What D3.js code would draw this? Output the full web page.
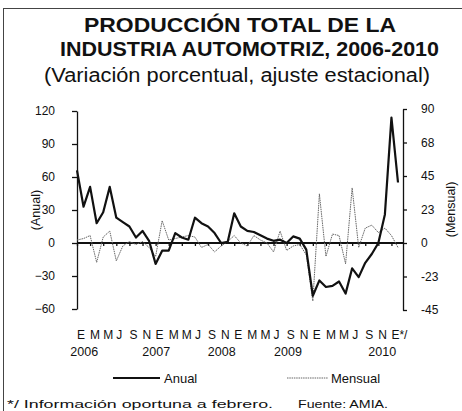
<!DOCTYPE html>
<html><head><meta charset="utf-8">
<script src="https://cdn.jsdelivr.net/npm/d3@7"></script>
<style>body{margin:0;background:#fff}svg{display:block}text{font-family:"Liberation Sans",Arial,sans-serif;fill:#111}</style>
</head><body><svg id="c" width="462" height="411"></svg>
<script>
const anual = [66,33,51,18,28,51,23,19,15,5,11,2,-19,-7,-7,9,5,3,23,18,15,9,0,1,27,15,11,10,7,4,2,3,0,6,4,-6,-48,-34,-40,-39,-35,-46,-23,-31,-18,-10,0,26,114,55];
const mensual = [2,3,5,-13,4,8,-12,-2,1,-1,1,-3,-9,15,2,3,4,5,4,-3,-1,-6,-2,1,5,0,-2,5,2,0,-6,8,-5,-2,-1,-8,-39,33,-9,6,5,-14,37,-3,10,12,7,10,5,-3];
const monthLetters = ["E","M","M","J","S","N","E","M","M","J","S","N","E","M","M","J","S","N","E","M","M","J","S","N","E*/"];
const years = ["2006","2007","2008","2009","2010"];
const leftTicks = [-60,-30,0,30,60,90,120];
const rightTicks = [-45,-22.5,0,22.5,45,67.5,90];
const rightTickLabels = ["-45","-23","0","23","45","68","90"];

const svg = d3.select("#c");
// frame
svg.append("rect").attr("x",3.5).attr("y",8.5).attr("width",520).attr("height",520)
  .attr("fill","none").attr("stroke","#444").attr("stroke-width",1);

// titles
svg.append("text").attr("x",84).attr("y",32).attr("font-size",21).attr("font-weight","bold")
  .attr("textLength",312).attr("lengthAdjust","spacingAndGlyphs").text("PRODUCCIÓN  TOTAL  DE  LA");
svg.append("text").attr("x",60).attr("y",56).attr("font-size",21).attr("font-weight","bold")
  .attr("textLength",379).attr("lengthAdjust","spacingAndGlyphs").text("INDUSTRIA AUTOMOTRIZ,  2006-2010");
svg.append("text").attr("x",44).attr("y",82).attr("font-size",20)
  .attr("textLength",386).attr("lengthAdjust","spacingAndGlyphs").text("(Variación porcentual, ajuste estacional)");

const x = d3.scaleLinear().domain([0,49]).range([77,398]);
const yL = d3.scaleLinear().domain([-60,120]).range([309,111]);
const yR = d3.scaleLinear().domain([-45,90]).range([310,109]);

// left axis
const gL = svg.append("g").attr("transform","translate(77,0)")
  .call(d3.axisLeft(yL).tickValues(leftTicks).tickSize(5).tickSizeOuter(0).tickPadding(17));
gL.selectAll("path,line").attr("stroke","#111").attr("stroke-width",1.3);
gL.selectAll("text").attr("font-size",12).attr("font-family","Liberation Sans, Arial, sans-serif").attr("fill","#111");

// right axis
const gR = svg.append("g").attr("transform","translate(403,0)")
  .call(d3.axisRight(yR).tickValues(rightTicks).tickSize(4).tickSizeOuter(0).tickPadding(14)
  .tickFormat((d,i)=>rightTickLabels[i]));
gR.selectAll("path,line").attr("stroke","#111").attr("stroke-width",1.3);
gR.selectAll("text").attr("font-size",12).attr("font-family","Liberation Sans, Arial, sans-serif").attr("fill","#111");

// axis titles
svg.append("text").attr("transform",`translate(40,${yL(30)}) rotate(-90)`).attr("text-anchor","middle")
  .attr("font-size",12.5).text("(Anual)");
svg.append("text").attr("transform",`translate(455,${yR(22.5)}) rotate(-90)`).attr("text-anchor","middle")
  .attr("font-size",12.5).text("(Mensual)");

// zero line with ticks
const idx = d3.range(0,49,2);
const gZ = svg.append("g").attr("transform",`translate(0,${yL(0)})`)
  .call(d3.axisBottom(x).tickValues(idx).tickSize(3).tickSizeOuter(0).tickFormat(""));
gZ.select("path").attr("stroke","#111").attr("stroke-width",2.2).attr("d",`M77,0H403`);
gZ.selectAll("line").attr("stroke","#111").attr("stroke-width",1.3);

// month letters
svg.append("g").selectAll("text").data(monthLetters).join("text")
  .attr("x",(d,i)=>x(i*2)).attr("y",339).attr("font-size",12).text(d=>d);
// years
const yearIdx = [1.1,12.1,22.1,32.2,46.6];
svg.append("g").selectAll("text").data(years).join("text")
  .attr("x",(d,i)=>x(yearIdx[i])).attr("y",356).attr("text-anchor","middle").attr("font-size",12.5).text(d=>d);

// lines
svg.append("path").datum(mensual).attr("fill","none").attr("stroke","#666").attr("stroke-width",1)
  .attr("stroke-dasharray","1.5,0.8")
  .attr("d",d3.line().x((d,i)=>x(i)).y(d=>yR(d)));
svg.append("path").datum(anual).attr("fill","none").attr("stroke","#111").attr("stroke-width",2.2)
  .attr("stroke-linejoin","round")
  .attr("d",d3.line().x((d,i)=>x(i)).y(d=>yL(d)));

// legend
svg.append("line").attr("x1",113).attr("x2",160).attr("y1",378).attr("y2",378).attr("stroke","#111").attr("stroke-width",2);
svg.append("text").attr("x",164).attr("y",383).attr("font-size",13).text("Anual");
svg.append("line").attr("x1",287).attr("x2",328).attr("y1",378).attr("y2",378).attr("stroke","#666").attr("stroke-width",1).attr("stroke-dasharray","1.5,0.8");
svg.append("text").attr("x",331).attr("y",383).attr("font-size",13).text("Mensual");

// footnotes
svg.append("text").attr("x",7).attr("y",408).attr("font-size",11.5)
  .attr("textLength",266).attr("lengthAdjust","spacingAndGlyphs").text("*/ Información oportuna a  febrero.");
svg.append("text").attr("x",298).attr("y",408).attr("font-size",11.5)
  .attr("textLength",90).attr("lengthAdjust","spacingAndGlyphs").text("Fuente: AMIA.");
</script></body></html>
